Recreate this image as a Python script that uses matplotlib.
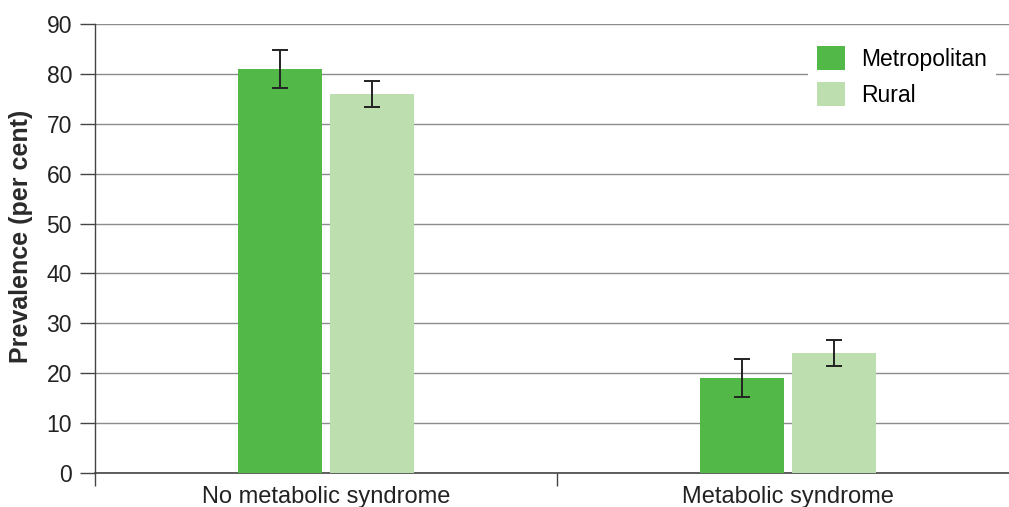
import matplotlib
matplotlib.use("Agg")
import matplotlib.pyplot as plt
import numpy as np

plt.rcParams['font.family'] = ['Liberation Sans', 'DejaVu Sans']

categories = ["No metabolic syndrome", "Metabolic syndrome"]
series_names = ["Metropolitan", "Rural"]
metro_values = [81.0, 19.0]
metro_err = [3.8, 3.8]
rural_values = [76.0, 24.0]
rural_err = [2.6, 2.6]
y_ticks = [0, 10, 20, 30, 40, 50, 60, 70, 80, 90]

colors = ["#52b848", "#bddfb0"]
W, H = 1009, 507
fig = plt.figure(figsize=(W / 100, H / 100), dpi=100)
ax = fig.add_axes([95 / W, (H - 473) / H, 924 / W, 449 / H])

x = np.arange(len(categories))
bw = 0.182
off = 0.1
err_kw = dict(ecolor="#222222", elinewidth=1.4, capsize=5.5, capthick=1.4)
ax.bar(x - off, metro_values, bw, color=colors[0], yerr=metro_err,
       error_kw=err_kw, label=series_names[0], zorder=3)
ax.bar(x + off, rural_values, bw, color=colors[1], yerr=rural_err,
       error_kw=err_kw, label=series_names[1], zorder=3)

ax.set_xlim(-0.5, 1.5)
ax.set_ylim(0, 90)
ax.set_yticks(y_ticks)
ax.tick_params(axis="y", direction="out", length=11, width=1, color="#444444",
               labelsize=16.5, pad=5.5, labelcolor="#222222")
ax.yaxis.grid(True, color="#8c8c8c", linewidth=1)
ax.set_axisbelow(True)

ax.set_xticks([-0.5, 0.5, 1.5])
ax.set_xticklabels([])
ax.tick_params(axis="x", direction="out", length=9, width=1, color="#444444")
ax.set_xticks(x, minor=True)
ax.set_xticklabels(categories, minor=True, fontsize=17, color="#222222")
ax.tick_params(axis="x", which="minor", length=0, pad=9)

for s in ["top", "right"]:
    ax.spines[s].set_visible(False)
ax.spines["left"].set_color("#444444")
ax.spines["bottom"].set_color("#444444")
ax.spines["left"].set_linewidth(1)
ax.spines["bottom"].set_linewidth(1.2)

ax.set_ylabel("Prevalence (per cent)", fontsize=18, fontweight="bold",
              color="#2a2a2a")
ax.yaxis.set_label_coords(-0.067, 0.528)

ax.legend(loc="upper left", bbox_to_anchor=((808 - 95) / 924, (473 - 37) / 449),
          frameon=True, facecolor="white", edgecolor="none", framealpha=1,
          fontsize=16.5, handlelength=1.2, handleheight=1.2,
          handletextpad=0.72, labelspacing=0.5, borderaxespad=0)

fig.savefig("out.png", dpi=100)
